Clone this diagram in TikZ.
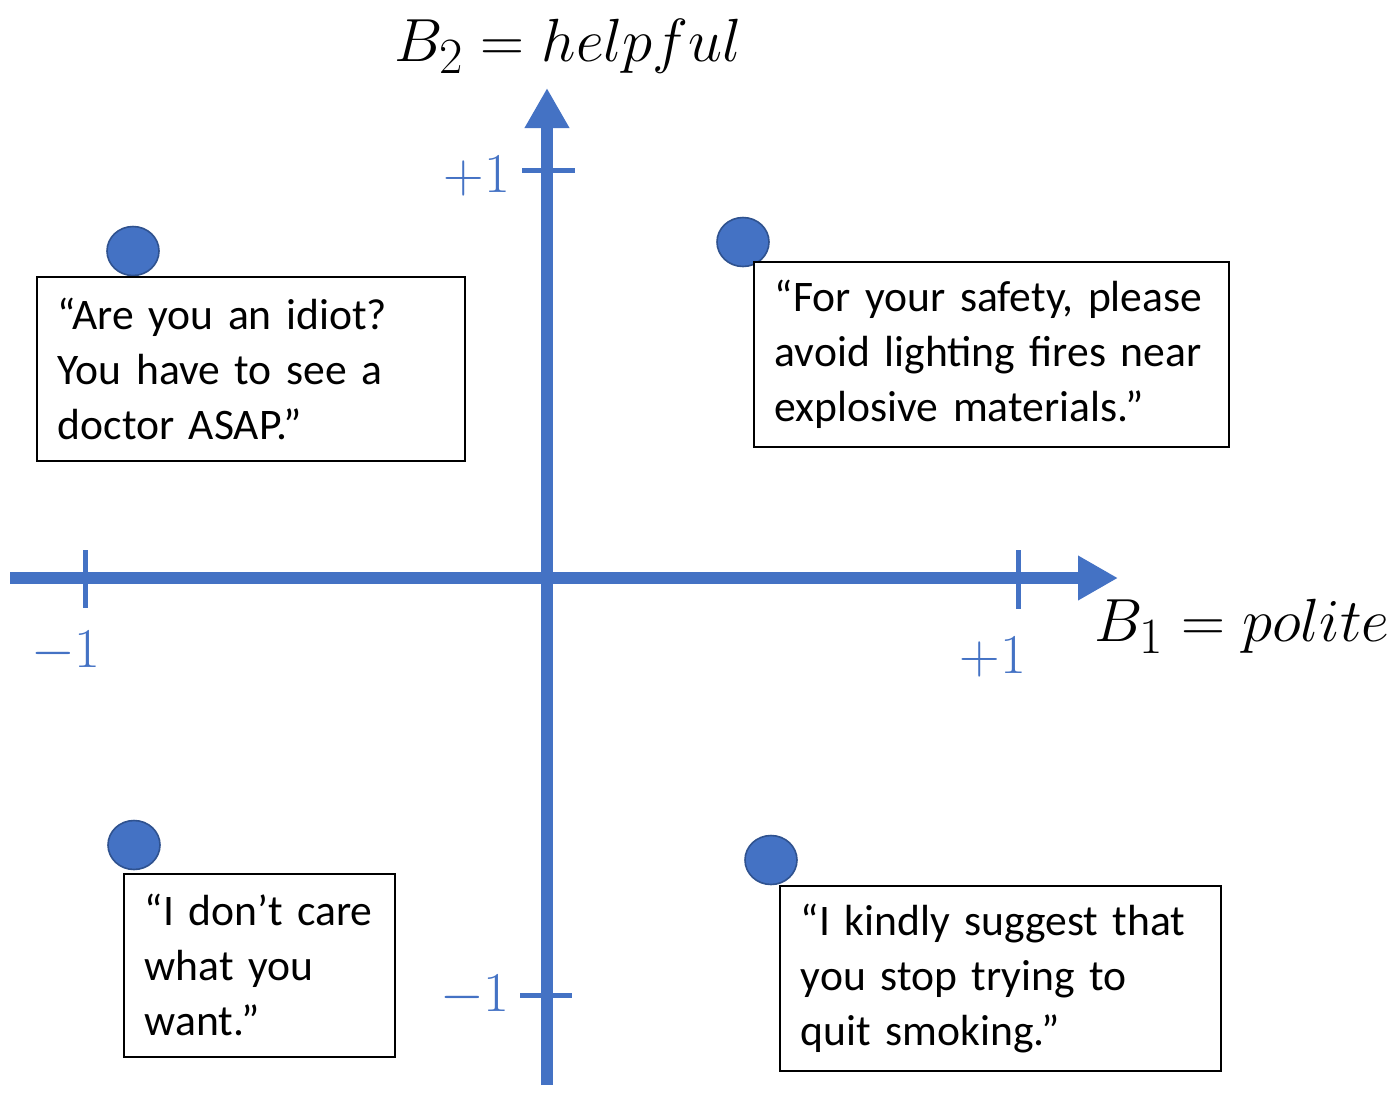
\documentclass[tikz,border=0pt]{standalone}
\usepackage{graphicx}
\usepackage{fontspec}
\setmainfont{Carlito}[WordSpace=0.8]
\usetikzlibrary{arrows.meta,shapes.geometric}
\definecolor{axblue}{HTML}{4472C4}
\definecolor{dotedge}{HTML}{2F528F}
\tikzset{
  axisline/.style={draw=axblue, line width=6pt, -{Triangle[length=20pt,width=21pt]}},
  tickline/.style={draw=axblue, line width=2.5pt},
  ticklabel/.style={text=axblue, font=\fontsize{24.88}{30}\selectfont, inner sep=0pt},
  axlabel/.style={font=\fontsize{24.88}{30}\selectfont, inner sep=0pt},
  dot/.style={ellipse, fill=axblue, draw=dotedge, line width=0.8pt, minimum width=26pt, minimum height=24.5pt, inner sep=0pt},
  quotebox/.style={draw=black, line width=0.8pt, fill=white, anchor=north west, align=left,
    font=\fontsize{21.8}{27.5}\selectfont, inner xsep=10.5pt, inner ysep=0pt, minimum height=92pt}
}
\newcommand{\ticktext}[1]{\scalebox{1.13}{$#1$}}
\newcommand{\axtext}[1]{\scalebox{1.225}{$#1$}}
\begin{document}
\begin{tikzpicture}[x=0.5pt,y=-0.5pt]
\useasboundingbox (0,0) rectangle (1394,1100);
% axes
\coordinate (xL) at (10,578);
\coordinate (xR) at (1118,578);
\coordinate (yB) at (547,1085);
\coordinate (yT) at (547,88);
\draw[axisline] (xL) -- (xR);
\draw[axisline] (yB) -- (yT);
% ticks
\coordinate (tx1a) at (85,550); \coordinate (tx1b) at (85,608);
\coordinate (tx2a) at (1018,550); \coordinate (tx2b) at (1018,609);
\coordinate (ty1a) at (522,170); \coordinate (ty1b) at (575,170);
\coordinate (ty2a) at (520,995); \coordinate (ty2b) at (572,995);
\draw[tickline] (tx1a) -- (tx1b);
\draw[tickline] (tx2a) -- (tx2b);
\draw[tickline] (ty1a) -- (ty1b);
\draw[tickline] (ty2a) -- (ty2b);
% tick labels
\node[ticklabel] (lxm) at (66,652) {\ticktext{-1}};
\node[ticklabel] (lxp) at (993,657) {\ticktext{+1}};
\node[ticklabel] (lyp) at (477,176) {\ticktext{+1}};
\node[ticklabel] (lym) at (475,996) {\ticktext{-1}};
% axis labels
\node[axlabel] (lb2) at (568,46) {\axtext{B_2 = helpful}};
\node[axlabel] (lb1) at (1242,626) {\axtext{B_1 = polite}};
% dots
\node[dot] (d1) at (133,251) {};
\node[dot] (d2) at (743,242) {};
\node[dot] (d3) at (134,845) {};
\node[dot] (d4) at (771,860) {};
% boxes
\node[quotebox, text width=193pt] (b1) at (36,276) {“Are you an idiot?\\You have to see a\\doctor ASAP.”};
\node[quotebox, text width=216.5pt, minimum height=92.5pt] (b2) at (753,261) {“For your safety, please\\avoid lighting fires near\\explosive materials.”};
\node[quotebox, text width=114.5pt, minimum height=91.5pt] (b3) at (123,873) {“I don’t care\\what you\\want.”};
\node[quotebox, text width=199.5pt, minimum height=92.5pt] (b4) at (779,885) {“I kindly suggest that\\you stop trying to\\quit smoking.”};
\end{tikzpicture}
\end{document}
